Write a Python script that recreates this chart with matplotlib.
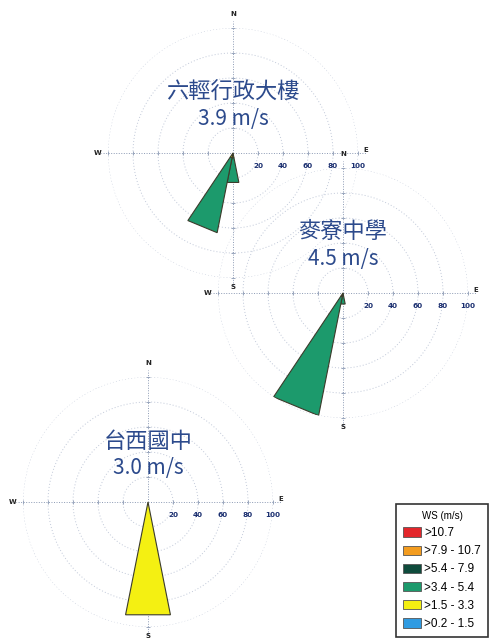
#!/usr/bin/env python3
# wind roses for three stations, overlapping layout + speed-class legend
import numpy as np
import matplotlib
matplotlib.use('Agg')
import matplotlib.pyplot as plt
from matplotlib.patches import Patch

plt.rcParams['font.family'] = ['Noto Sans CJK TC', 'DejaVu Sans']

# station labels
station_names = ['六輕行政大樓', '麥寮中學', '台西國中']
station_speeds = ['3.9 m/s', '4.5 m/s', '3.0 m/s']

# petals: direction (deg from N), percent per speed class (stacked from centre)
r1_dirs = [180.0, 202.5]
r1_yellow = [4, 4]
r1_green = [20, 61]

r2_dirs = [180.0, 202.5]
r2_yellow = [0, 3]
r2_green = [9, 97]

r3_dirs = [180.0]
r3_yellow = [92]
r3_green = [0]

# legend classes
ws_labels = ['>10.7', '>7.9 - 10.7', '>5.4 - 7.9', '>3.4 - 5.4', '>1.5 - 3.3', '>0.2 - 1.5']
ws_colors = ['#e3262b', '#f39c1f', '#0f4b3c', '#1c9a6c', '#f4f012', '#2f9be2']

ring_vals = [20, 40, 60, 80, 100]

# rose centres in pixels (from top-left) and radius of the 100 ring
W, H = 490, 639
R = 125
centres = [(233, 153), (343, 293), (148, 502)]

TITLE_C = '#2c4a8c'
TICK_C = '#1b2f70'
RING_C = '#c0c8d8'
SPOKE_C = '#8c9ab4'
EDGE_C = '#3b3b2b'

fig = plt.figure(figsize=(W / 100, H / 100), dpi=100)
fig.patch.set_facecolor('white')


def make_rose(cx, cy):
    ax = fig.add_axes([(cx - R) / W, (H - cy - R) / H, 2 * R / W, 2 * R / H],
                      projection='polar')
    ax.set_theta_zero_location('N')
    ax.set_theta_direction(-1)
    ax.set_ylim(0, 100)
    ax.grid(False)
    ax.set_xticks([]); ax.set_yticks([])
    ax.spines['polar'].set_visible(False)
    ax.patch.set_alpha(0)
    th = np.linspace(0, 2 * np.pi, 361)
    for r in ring_vals:
        ax.plot(th, np.full_like(th, r), ls=(0, (1, 2.2)), color=RING_C, lw=0.7, zorder=1)
    for a in [0, 90, 180, 270]:
        t = np.deg2rad(a)
        ax.plot([t, t], [0, 106], ls=(0, (1, 1.6)), color=SPOKE_C, lw=0.7,
                clip_on=False, zorder=1)
        mk = '_' if a in (0, 180) else '|'
        ax.plot([t] * len(ring_vals), ring_vals, ls='none', marker=mk, ms=3,
                mew=0.6, color=SPOKE_C, clip_on=False, zorder=1)
    # compass letters
    for lab, a, dx, dy in [('N', 0, 0, 14), ('E', 90, 8, 3), ('S', 180, 0, -9), ('W', 270, -10, 0)]:
        ax.annotate(lab, xy=(np.deg2rad(a), 100), xytext=(dx, dy), textcoords='offset pixels',
                    ha='center', va='center', fontsize=5, fontweight='bold', color='#222222',
                    family='DejaVu Sans', annotation_clip=False)
    # ring value labels under the east axis
    for r in ring_vals:
        ax.annotate(str(r), xy=(np.pi / 2, r), xytext=(0, -13), textcoords='offset pixels',
                    ha='center', va='center', fontsize=5.2, fontweight='bold', color=TICK_C,
                    family='DejaVu Sans', annotation_clip=False)
    return ax


def wedge(ax, d, r0, r1, color):
    # straight-edged petal between radii r0 and r1, 22.5 deg wide
    if r1 <= r0:
        return
    t1 = np.deg2rad(d - 11.25)
    t2 = np.deg2rad(d + 11.25)
    ax.fill([t1, t2, t2, t1], [r0, r0, r1, r1], facecolor=color, edgecolor=EDGE_C,
            lw=0.8, zorder=3)


def add_petals(ax, dirs, yellow, green):
    for d, y, g in zip(dirs, yellow, green):
        wedge(ax, d, 0, y, ws_colors[4])
        wedge(ax, d, y, y + g, ws_colors[3])


def add_title(ax, name, speed):
    ax.annotate(name, xy=(0, 0), xytext=(0, 61), textcoords='offset pixels', ha='center',
                va='center', fontsize=16, color=TITLE_C, annotation_clip=False, zorder=5)
    ax.annotate(speed, xy=(0, 0), xytext=(0, 34), textcoords='offset pixels', ha='center',
                va='center', fontsize=15, color=TITLE_C, annotation_clip=False, zorder=5)


petals = [(r1_dirs, r1_yellow, r1_green), (r2_dirs, r2_yellow, r2_green),
          (r3_dirs, r3_yellow, r3_green)]
for (cx, cy), (d, y, g), name, spd in zip(centres, petals, station_names, station_speeds):
    ax = make_rose(cx, cy)
    add_petals(ax, d, y, g)
    add_title(ax, name, spd)

handles = [Patch(facecolor=c, edgecolor='#555555', lw=0.6) for c in ws_colors]
leg = fig.legend(handles, ws_labels, title='WS (m/s)', loc='upper left',
                 bbox_to_anchor=(396 / W, 1 - 504 / H), fontsize=8.5, title_fontsize=7,
                 frameon=True, fancybox=False, edgecolor='black', handlelength=1.5,
                 handleheight=0.85, handletextpad=0.3, labelspacing=0.52, borderpad=0.6,
                 borderaxespad=0)
leg.get_frame().set_linewidth(1.2)
for txt in leg.get_texts():
    txt.set_family('Liberation Sans')
leg.get_title().set_family('Liberation Sans')

fig.savefig('out.png', dpi=100)
